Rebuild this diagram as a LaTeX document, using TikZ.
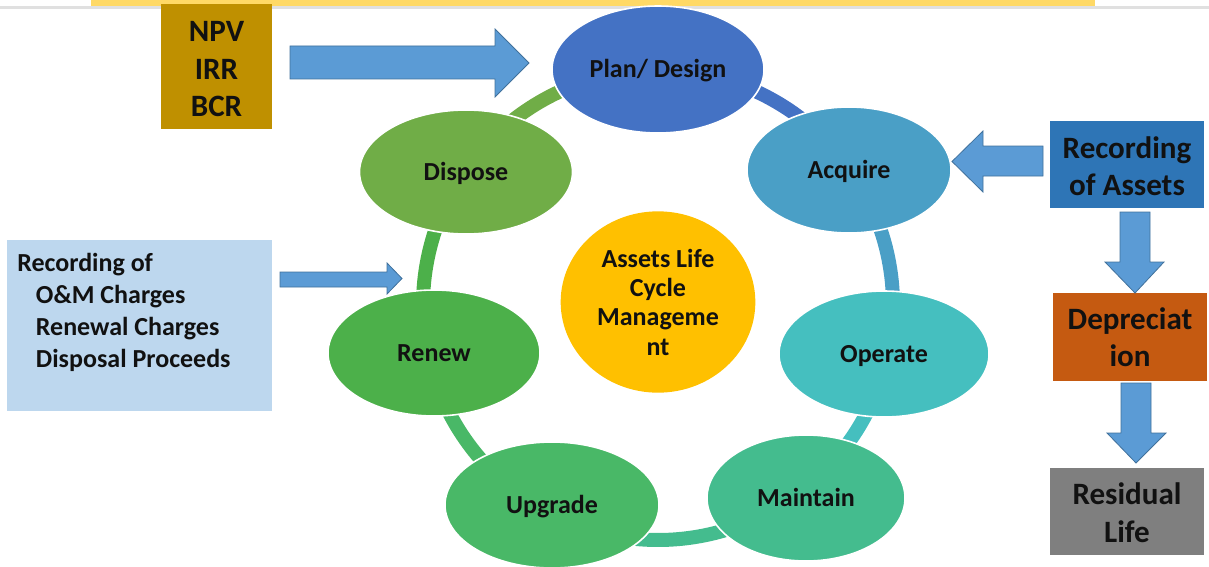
\documentclass[tikz,border=0pt]{standalone}
\usepackage{fontspec}
\setmainfont{Carlito}
\usetikzlibrary{shapes.geometric}
\definecolor{cplan}{HTML}{4472C4}
\definecolor{cacq}{HTML}{4A9FC6}
\definecolor{coper}{HTML}{45BFBF}
\definecolor{cmaint}{HTML}{44BC8E}
\definecolor{cupg}{HTML}{49B867}
\definecolor{crenew}{HTML}{4CB04A}
\definecolor{cdisp}{HTML}{70AD47}
\definecolor{ccenter}{HTML}{FFC000}
\definecolor{cnpv}{HTML}{BF9000}
\definecolor{crec}{HTML}{2E75B6}
\definecolor{cdep}{HTML}{C55A11}
\definecolor{cres}{HTML}{7F7F7F}
\definecolor{cleft}{HTML}{BDD7EE}
\definecolor{arrowblue}{HTML}{5B9BD5}
\definecolor{arrowedge}{HTML}{41719C}
\definecolor{headyellow}{HTML}{FFD966}
\definecolor{txt}{HTML}{111111}
\begin{document}
\begin{tikzpicture}[x=0.75pt,y=-0.75pt,
  stage/.style={ellipse, draw=white, line width=1.2pt, inner sep=0pt,
    text height=15pt, text depth=2.4pt,
    font=\fontsize{19.5}{22}\selectfont\bfseries, text=txt},
  boxfill/.style={rectangle, inner sep=0pt},
  boxtext/.style={inner sep=0pt, align=center,
    font=\fontsize{23.3}{28}\selectfont\bfseries, text=txt},
  ring/.style={line width=10.5pt},
  blockarrow/.style={fill=arrowblue, draw=arrowedge, line width=0.6pt, line join=miter}]
\useasboundingbox (0,0) rectangle (1209,567);
% header strip
\fill[black!12] (0,6) rectangle (1209,9);
\fill[headyellow] (91,0) rectangle (1095,6.5);

% ring segments
\coordinate (rc) at (658,305);
\draw[ring,cplan]  ([shift={(-90:235)}]rc) arc[start angle=-90,end angle=-35,radius=235];
\draw[ring,cacq]   ([shift={(-35:235)}]rc) arc[start angle=-35,end angle=12,radius=235];
\draw[ring,coper]  ([shift={(12:235)}]rc) arc[start angle=12,end angle=52.5,radius=235];
\draw[ring,cmaint] ([shift={(52.5:235)}]rc) arc[start angle=52.5,end angle=118,radius=235];
\draw[ring,cupg]   ([shift={(118:235)}]rc) arc[start angle=118,end angle=168,radius=235];
\draw[ring,crenew] ([shift={(168:235)}]rc) arc[start angle=168,end angle=214.7,radius=235];
\draw[ring,cdisp]  ([shift={(214.7:235)}]rc) arc[start angle=214.7,end angle=270,radius=235];

% stages
\node[stage, fill=cplan,  minimum width=159pt,   minimum height=95.25pt] (plan)    at (658,69.5) {Plan/ Design};
\node[stage, fill=cacq,   minimum width=153pt,   minimum height=94.5pt]  (acquire) at (849,170) {Acquire};
\node[stage, fill=coper,  minimum width=157.5pt, minimum height=94.5pt]  (operate) at (884,354) {Operate};
\node[stage, fill=cmaint, minimum width=148.5pt, minimum height=94.5pt]  (maintain) at (806,498) {Maintain};
\node[stage, fill=cupg,   minimum width=160.5pt, minimum height=94.5pt]  (upgrade) at (552,505) {Upgrade};
\node[stage, fill=crenew, minimum width=159pt,   minimum height=94.5pt]  (renew)   at (434,353) {Renew};
\node[stage, fill=cdisp,  minimum width=159.75pt, minimum height=93pt]   (dispose) at (466,172) {Dispose};

% centre
\node[ellipse, fill=ccenter, minimum width=146pt, minimum height=136pt, inner sep=0pt, align=center,
  font=\fontsize{19.5}{22}\selectfont\bfseries, text=txt] (centre) at (658,302)
  {Assets Life\\Cycle\\Manageme\\nt};

% boxes
\node[boxfill, fill=cnpv, minimum width=83.25pt, minimum height=93.75pt] (npv) at (216.5,66.5) {};
\node[boxtext] (npvtext) at ([yshift=-1.9pt]npv.center) {NPV\\IRR\\BCR};
\node[boxfill, fill=crec, minimum width=115.5pt, minimum height=65.25pt] (rec) at (1127,164.5) {};
\node[boxtext] (rectext) at ([yshift=-1.5pt]rec.center) {Recording\\of Assets};
\node[boxfill, fill=cdep, minimum width=115.5pt, minimum height=66pt] (dep) at (1130,337) {};
\node[boxtext] (deptext) at ([yshift=-0.4pt]dep.center) {Depreciat\\ion};
\node[boxfill, fill=cres, minimum width=115.5pt, minimum height=65.25pt] (res) at (1127,511.5) {};
\node[boxtext] (restext) at ([yshift=-0.8pt]res.center) {Residual\\Life};
\node[boxfill, fill=cleft, minimum width=198.75pt, minimum height=128.25pt] (leftbox) at (139.5,325.5) {};
\node[anchor=west, inner sep=0pt, align=left, font=\fontsize{19.5}{24}\selectfont\bfseries, text=txt] (lefttext) at (17,312.5)
  {Recording of\\\hspace*{14pt}O\&M Charges\\\hspace*{14pt}Renewal Charges\\\hspace*{14pt}Disposal Proceeds};

% block arrows
\draw[blockarrow] (290,46) -- (495,46) -- (495,29) -- (529,63) -- (495,97) -- (495,79) -- (290,79) -- cycle;
\draw[blockarrow] (1043,146) -- (983,146) -- (983,131) -- (952,161.5) -- (983,192) -- (983,176) -- (1043,176) -- cycle;
\draw[blockarrow] (1120,212) -- (1150,212) -- (1150,262) -- (1164,262) -- (1135,293) -- (1105,262) -- (1120,262) -- cycle;
\draw[blockarrow] (1121,383) -- (1151,383) -- (1151,433) -- (1166,433) -- (1136,463) -- (1107,433) -- (1121,433) -- cycle;
\draw[blockarrow] (280,272) -- (387,272) -- (387,263) -- (402,278.5) -- (387,294) -- (387,287) -- (280,287) -- cycle;
\end{tikzpicture}
\end{document}
